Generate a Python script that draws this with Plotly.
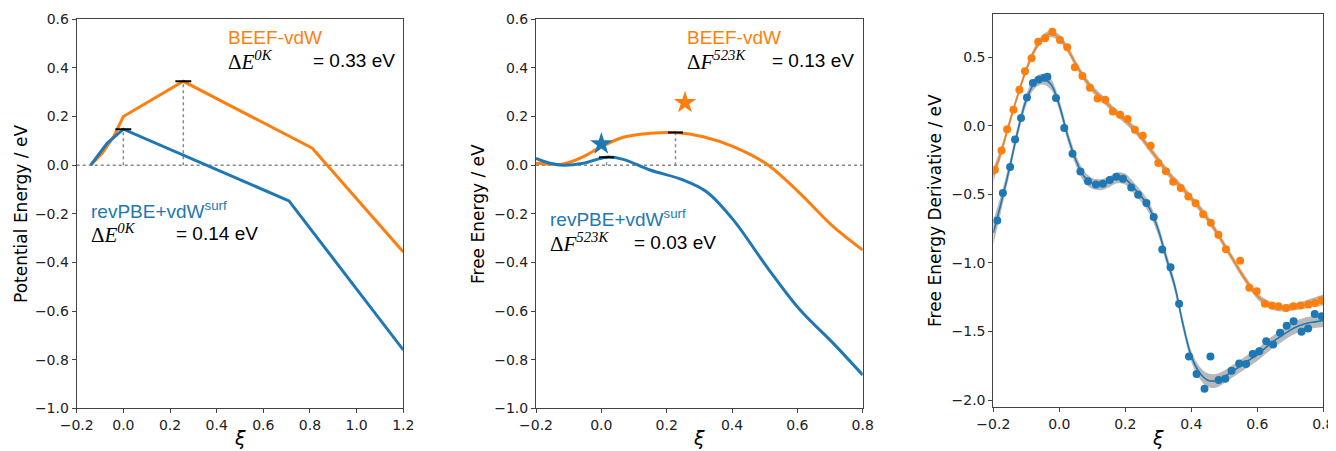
import plotly.graph_objects as go

ORANGE = "#ff7f0e"
BLUE = "#1f77b4"

# ---------------- Panel 1: potential energy ----------------
p1_beef_xi = [-0.14, -0.09, -0.04, 0.0, 0.257, 0.81, 1.2]
p1_beef_e = [0.0, 0.05, 0.12, 0.20, 0.345, 0.07, -0.357]
p1_rev_xi = [-0.14, -0.07, 0.0, 0.71, 1.2]
p1_rev_e = [0.0, 0.09, 0.148, -0.147, -0.76]
p1_ts_xi = [0.257, 0.0]          # BEEF, revPBE
p1_ts_e = [0.345, 0.148]

# ---------------- Panel 2: free energy ----------------
p2_beef_xi = [-0.2, -0.16, -0.127, -0.09, -0.055, 0.001, 0.067, 0.149, 0.227, 0.312, 0.404, 0.511, 0.608, 0.71, 0.8]
p2_beef_f = [0.008, 0.004, 0.003, 0.015, 0.035, 0.076, 0.115, 0.131, 0.134, 0.117, 0.076, 0.0, -0.116, -0.253, -0.349]
p2_rev_xi = [-0.2, -0.157, -0.116, -0.055, 0.016, 0.067, 0.149, 0.251, 0.322, 0.404, 0.506, 0.608, 0.71, 0.8]
p2_rev_f = [0.028, 0.008, 0.0, 0.008, 0.033, 0.024, -0.02, -0.061, -0.109, -0.225, -0.417, -0.595, -0.733, -0.863]
p2_ts_xi = [0.227, 0.016]
p2_ts_f = [0.134, 0.033]
p2_star_xi = [0.256, 0.0]
p2_star_f = [0.257, 0.087]

# ---------------- Panel 3: free energy derivative ----------------
p3_beef_xi = [-0.195, -0.175, -0.158, -0.139, -0.121, -0.104, -0.084, -0.064, -0.043, -0.021,
              0.002, 0.024, 0.047, 0.07, 0.093, 0.116, 0.139, 0.162, 0.184, 0.207,
              0.229, 0.253, 0.277, 0.300, 0.323, 0.345, 0.368, 0.391, 0.413, 0.436,
              0.459, 0.482, 0.505, 0.548, 0.576, 0.598, 0.623, 0.644, 0.664, 0.687,
              0.709, 0.731, 0.755, 0.775, 0.795]
p3_beef_d = [-0.32, -0.18, -0.025, 0.116, 0.262, 0.397, 0.493, 0.612, 0.638, 0.686,
             0.626, 0.573, 0.427, 0.363, 0.278, 0.199, 0.189, 0.104, 0.080, 0.049,
             -0.029, -0.073, -0.146, -0.272, -0.332, -0.409, -0.453, -0.515, -0.565, -0.645,
             -0.707, -0.794, -0.900, -0.984, -1.182, -1.207, -1.297, -1.311, -1.316, -1.328,
             -1.316, -1.311, -1.304, -1.292, -1.273]
p3_rev_xi = [-0.188, -0.171, -0.149, -0.134, -0.116, -0.098, -0.08, -0.062, -0.045, -0.036,
             -0.01, 0.015, 0.04, 0.064, 0.087, 0.111, 0.132, 0.153, 0.173, 0.193,
             0.218, 0.239, 0.264, 0.286, 0.312, 0.337, 0.363, 0.393, 0.416, 0.44,
             0.458, 0.483, 0.503, 0.522, 0.545, 0.566, 0.586, 0.606, 0.627, 0.648,
             0.669, 0.689, 0.71, 0.734, 0.754, 0.774, 0.795]
p3_rev_d = [-0.69, -0.491, -0.30, -0.10, 0.057, 0.206, 0.311, 0.338, 0.35, 0.357,
            0.203, -0.017, -0.204, -0.333, -0.404, -0.429, -0.423, -0.396, -0.371, -0.386,
            -0.45, -0.503, -0.563, -0.665, -0.903, -1.032, -1.298, -1.683, -1.811, -1.918,
            -1.682, -1.854, -1.844, -1.786, -1.734, -1.738, -1.664, -1.644, -1.571, -1.595,
            -1.51, -1.459, -1.426, -1.502, -1.478, -1.373, -1.389]

fit_xi = [-0.2, -0.175, -0.15, -0.125, -0.1, -0.075, -0.05, -0.025, 0.0, 0.025,
          0.05, 0.075, 0.1, 0.125, 0.15, 0.175, 0.2, 0.225, 0.25, 0.275,
          0.3, 0.325, 0.35, 0.375, 0.4, 0.425, 0.45, 0.475, 0.5, 0.525,
          0.55, 0.575, 0.6, 0.625, 0.65, 0.675, 0.7, 0.725, 0.75, 0.775, 0.8]
fit_beef = [-0.36, -0.18, 0.03, 0.23, 0.41, 0.55, 0.64, 0.67, 0.64, 0.56,
            0.45, 0.35, 0.27, 0.21, 0.15, 0.09, 0.04, -0.02, -0.09, -0.17,
            -0.25, -0.33, -0.40, -0.46, -0.53, -0.60, -0.68, -0.77, -0.87, -0.97,
            -1.07, -1.16, -1.24, -1.29, -1.32, -1.33, -1.325, -1.315, -1.30, -1.285, -1.27]
fit_beef_err = [0.05, 0.035, 0.028, 0.025, 0.025, 0.025, 0.025, 0.025, 0.025, 0.025,
                0.025, 0.025, 0.025, 0.025, 0.025, 0.025, 0.025, 0.025, 0.025, 0.025,
                0.025, 0.025, 0.025, 0.025, 0.025, 0.025, 0.025, 0.025, 0.025, 0.025,
                0.025, 0.025, 0.025, 0.025, 0.025, 0.025, 0.025, 0.025, 0.03, 0.035, 0.04]
fit_rev = [-0.78, -0.55, -0.30, -0.03, 0.19, 0.31, 0.34, 0.30, 0.15, -0.07,
           -0.25, -0.37, -0.42, -0.43, -0.41, -0.38, -0.39, -0.45, -0.52, -0.61,
           -0.76, -0.97, -1.17, -1.45, -1.68, -1.80, -1.855, -1.86, -1.83, -1.79,
           -1.75, -1.71, -1.67, -1.62, -1.57, -1.53, -1.49, -1.46, -1.44, -1.43, -1.42]
fit_rev_err = [0.09, 0.06, 0.045, 0.04, 0.04, 0.04, 0.04, 0.04, 0.04, 0.04,
               0.04, 0.04, 0.04, 0.04, 0.04, 0.04, 0.04, 0.04, 0.04, 0.04,
               0.04, 0.04, 0.04, 0.04, 0.04, 0.045, 0.05, 0.05, 0.045, 0.045,
               0.045, 0.045, 0.045, 0.045, 0.045, 0.045, 0.045, 0.045, 0.045, 0.045, 0.05]

# The page body has an 8 px margin, so the figure is drawn 8 px in from the top-left.
OFF = 8
W, H = 1336 - OFF, 451 - OFF
TICK_FONT = dict(family="DejaVu Sans", size=14, color="#222")
ANN_FONT = "Liberation Sans"

fig = go.Figure()

# Panel 1 traces
fig.add_trace(go.Scatter(x=[-0.2, 1.2], y=[0, 0], mode="lines",
                         line=dict(color="#888", width=1.5, dash="dot"), xaxis="x", yaxis="y"))
for xs, ys in zip(p1_ts_xi, p1_ts_e):
    fig.add_trace(go.Scatter(x=[xs, xs], y=[0, ys], mode="lines",
                             line=dict(color="#888", width=1.5, dash="dot"), xaxis="x", yaxis="y"))
fig.add_trace(go.Scatter(x=p1_beef_xi, y=p1_beef_e, mode="lines",
                         line=dict(color=ORANGE, width=3), xaxis="x", yaxis="y"))
fig.add_trace(go.Scatter(x=p1_rev_xi, y=p1_rev_e, mode="lines",
                         line=dict(color=BLUE, width=3), xaxis="x", yaxis="y"))
for xs, ys in zip(p1_ts_xi, p1_ts_e):
    fig.add_trace(go.Scatter(x=[xs - 0.034, xs + 0.034], y=[ys, ys], mode="lines",
                             line=dict(color="black", width=2), xaxis="x", yaxis="y"))

# Panel 2 traces
fig.add_trace(go.Scatter(x=[-0.2, 0.8], y=[0, 0], mode="lines",
                         line=dict(color="#888", width=1.5, dash="dot"), xaxis="x2", yaxis="y2"))
for xs, ys in zip(p2_ts_xi, p2_ts_f):
    fig.add_trace(go.Scatter(x=[xs, xs], y=[0, ys], mode="lines",
                             line=dict(color="#888", width=1.5, dash="dot"), xaxis="x2", yaxis="y2"))
fig.add_trace(go.Scatter(x=p2_beef_xi, y=p2_beef_f, mode="lines", line_shape="spline",
                         line=dict(color=ORANGE, width=3), xaxis="x2", yaxis="y2"))
fig.add_trace(go.Scatter(x=p2_rev_xi, y=p2_rev_f, mode="lines", line_shape="spline",
                         line=dict(color=BLUE, width=3), xaxis="x2", yaxis="y2"))
for xs, ys in zip(p2_ts_xi, p2_ts_f):
    fig.add_trace(go.Scatter(x=[xs - 0.023, xs + 0.023], y=[ys, ys], mode="lines",
                             line=dict(color="black", width=2), xaxis="x2", yaxis="y2"))
fig.add_trace(go.Scatter(x=p2_star_xi, y=p2_star_f, mode="markers",
                         marker=dict(symbol="star", size=17, color=[ORANGE, BLUE], line=dict(width=0)),
                         xaxis="x2", yaxis="y2"))

# Panel 3 traces
for fit, err, col in [(fit_beef, fit_beef_err, ORANGE), (fit_rev, fit_rev_err, BLUE)]:
    up = [f + e for f, e in zip(fit, err)]
    lo = [f - e for f, e in zip(fit, err)]
    fig.add_trace(go.Scatter(x=fit_xi, y=up, mode="lines", line=dict(width=0, shape="spline"),
                             xaxis="x3", yaxis="y3"))
    fig.add_trace(go.Scatter(x=fit_xi, y=lo, mode="lines", line=dict(width=0, shape="spline"),
                             fill="tonexty", fillcolor="rgba(128,128,128,0.55)", xaxis="x3", yaxis="y3"))
    fig.add_trace(go.Scatter(x=fit_xi, y=fit, mode="lines", line=dict(color=col, width=1.6, shape="spline"),
                             xaxis="x3", yaxis="y3"))
fig.add_trace(go.Scatter(x=p3_beef_xi, y=p3_beef_d, mode="markers",
                         marker=dict(color=ORANGE, size=8, line=dict(width=0)), xaxis="x3", yaxis="y3"))
fig.add_trace(go.Scatter(x=p3_rev_xi, y=p3_rev_d, mode="markers",
                         marker=dict(color=BLUE, size=8, line=dict(width=0)), xaxis="x3", yaxis="y3"))

def px_x(p):
    return (p - OFF) / W

def px_y(p):
    return 1 - (p - OFF) / H

axis_common = dict(showgrid=False, zeroline=False, showline=True, mirror=True, automargin=False,
                   linecolor="#444", linewidth=1, ticks="outside", ticklen=4,
                   tickcolor="#444", tickfont=TICK_FONT, tickformat=".1f")

fig.update_layout(
    width=W, height=H, margin=dict(l=0, r=0, t=0, b=0, pad=0, autoexpand=False),
    autosize=False,
    paper_bgcolor="white", plot_bgcolor="white", showlegend=False,
    xaxis=dict(domain=[px_x(76.7), px_x(403.3)], range=[-0.2, 1.2], dtick=0.2, tick0=-0.2,
               anchor="y", **axis_common),
    yaxis=dict(domain=[px_y(408.3), px_y(19.3)], range=[-1.0, 0.6], dtick=0.2, tick0=-1.0,
               anchor="x", **axis_common),
    xaxis2=dict(domain=[px_x(536), px_x(862.7)], range=[-0.2, 0.8], dtick=0.2, tick0=-0.2,
                anchor="y2", **axis_common),
    yaxis2=dict(domain=[px_y(408.3), px_y(19.3)], range=[-1.0, 0.6], dtick=0.2, tick0=-1.0,
                anchor="x2", **axis_common),
    xaxis3=dict(domain=[px_x(993.3), px_x(1323.3)], range=[-0.2, 0.8], dtick=0.2, tick0=-0.2,
                anchor="y3", **axis_common),
    yaxis3=dict(domain=[px_y(407.3), px_y(14)], range=[-2.053, 0.815], dtick=0.5, tick0=-2.0,
                anchor="x3", **axis_common),
)

anns = []
def txt(x, y, text, size=19, color="black", family=ANN_FONT, xanchor="left", angle=0):
    anns.append(dict(x=px_x(x), y=px_y(y), xref="paper", yref="paper", text=text, showarrow=False,
                     xanchor=xanchor, yanchor="middle", textangle=angle,
                     font=dict(family=family, size=size, color=color)))

MATH = "Liberation Serif"
# Axis titles
txt(21, 214, "Potential Energy / eV", size=17, family="DejaVu Sans", xanchor="center", angle=-90)
txt(478, 214, "Free Energy / eV", size=17, family="DejaVu Sans", xanchor="center", angle=-90)
txt(935, 211, "Free Energy Derivative / eV", size=17, family="DejaVu Sans", xanchor="center", angle=-90)
for cx in [240, 699, 1158]:
    txt(cx, 438, "<i>ξ</i>", size=19, family="DejaVu Sans", xanchor="center")

# Panel 1 labels
txt(226, 37, "BEEF-vdW", color=ORANGE)
txt(226, 60, "Δ<i>E</i><sup><i>0K</i></sup>", size=21, family=MATH)
txt(311, 60, "= 0.33 eV")
txt(89, 210, "revPBE+vdW<sup>surf</sup>", color=BLUE)
txt(89, 233, "Δ<i>E</i><sup><i>0K</i></sup>", size=21, family=MATH)
txt(174, 233, "= 0.14 eV")
# Panel 2 labels
txt(685, 37, "BEEF-vdW", color=ORANGE)
txt(685, 60, "Δ<i>F</i><sup><i>523K</i></sup>", size=21, family=MATH)
txt(770, 60, "= 0.13 eV")
txt(548, 218, "revPBE+vdW<sup>surf</sup>", color=BLUE)
txt(548, 242, "Δ<i>F</i><sup><i>523K</i></sup>", size=21, family=MATH)
txt(632, 242, "= 0.03 eV")

fig.update_layout(annotations=anns)
fig.write_html("out.html")
